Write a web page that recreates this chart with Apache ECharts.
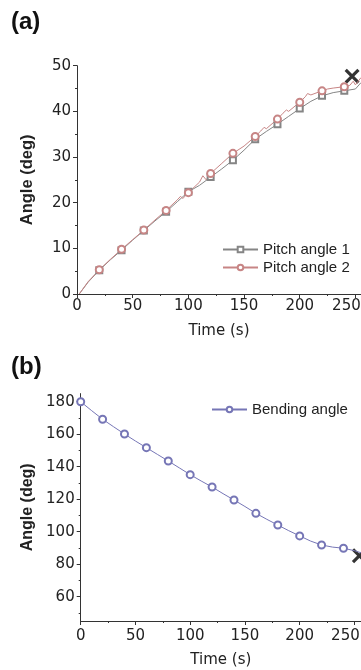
<!DOCTYPE html>
<html>
<head>
<meta charset="utf-8">
<script src="https://cdn.jsdelivr.net/npm/echarts@6/dist/echarts.min.js"></script>
<style>
  html, body { margin: 0; padding: 0; background: #fff; }
  #echarts { width: 361px; height: 670px; }
</style>
</head>
<body>
<div id="echarts"></div>
<script>
// (a) pitch angles
var pitch1Time = [2, 10, 20, 30, 40, 50, 60, 70, 80, 90, 100, 110, 120, 130, 140, 150, 160, 170, 180, 190, 200, 210, 220, 230, 240, 250, 255];
var pitch1 = [0, 2.6, 5.2, 7.5, 9.6, 11.8, 13.9, 16.0, 18.0, 20.2, 22.4, 23.8, 25.6, 27.4, 29.3, 31.5, 33.9, 35.6, 37.2, 38.9, 40.6, 42.2, 43.4, 44.1, 44.5, 44.9, 46.3];
var pitch2Time = [2, 10, 20, 30, 40, 50, 60, 70, 80, 90, 93, 95, 100, 110, 113, 116, 120, 130, 140, 150, 160, 165, 168, 170, 180, 185, 188, 190, 200, 205, 207, 210, 220, 225, 230, 240, 245, 248, 250, 255];
var pitch2 = [0, 2.7, 5.3, 7.6, 9.8, 11.9, 14.0, 16.2, 18.3, 20.6, 21.4, 20.9, 22.2, 24.5, 25.9, 25.0, 26.4, 28.6, 30.8, 32.4, 34.5, 35.7, 36.5, 36.2, 38.3, 39.6, 40.3, 40.0, 42.0, 43.2, 43.9, 43.6, 44.5, 44.9, 45.1, 45.4, 45.7, 46.6, 45.8, 47.4];
var pitchMarks = [20, 40, 60, 80, 100, 120, 140, 160, 180, 200, 220, 240];
var pitchCross = [[247, 47.7]];

// (b) bending angle
var bendTime = [0, 10, 20, 30, 40, 50, 60, 70, 80, 90, 100, 110, 120, 130, 140, 150, 160, 170, 180, 190, 200, 210, 220, 230, 240, 250, 256];
var bend = [180, 174.5, 169.2, 164.6, 160.1, 155.8, 151.7, 147.6, 143.5, 139.3, 135.1, 131.2, 127.5, 123.4, 119.5, 115.5, 111.3, 107.6, 104.1, 100.6, 97.4, 94.2, 91.8, 90.5, 89.8, 88.3, 87.0];
var bendMarks = [0, 20, 40, 60, 80, 100, 120, 140, 160, 180, 200, 220, 240];
var bendCross = [[254.5, 85.2]];

var bendLabels = [60, 80, 100, 120, 140, 160, 180];
var bendMinor = [50, 70, 90, 110, 130, 150, 170];

var txt = '#222';
var font = 'Liberation Sans, Arial, sans-serif';
var numFont = 'DejaVu Sans, sans-serif';
var crossPath = 'path://M0,3 L3,0 L10,7 L17,0 L20,3 L13,10 L20,17 L17,20 L10,13 L3,20 L0,17 L7,10 Z';

function withMarks(times, vals, marks) {
  var out = [];
  for (var i = 0; i < times.length; i++) {
    var item = { value: [times[i], vals[i]] };
    if (marks.indexOf(times[i]) < 0) item.symbol = 'none';
    out.push(item);
  }
  return out;
}

function xAxisFor(idx, max, margin, gap) {
  return {
    gridIndex: idx, type: 'value', min: 0, max: max, interval: 50,
    name: 'Time (s)', nameLocation: 'middle', nameGap: gap,
    nameTextStyle: { color: txt, fontSize: 15, fontFamily: numFont },
    axisLine: { lineStyle: { color: '#333', width: 1 } },
    axisTick: { length: 4, lineStyle: { color: '#333' } },
    minorTick: { show: true, splitNumber: 2, length: 2, lineStyle: { color: '#333' } },
    axisLabel: {
      color: txt, fontSize: 15, fontFamily: numFont, margin: margin,
      // last label sits at the cropped right edge, nudge it left
      formatter: function (v) { return v === 250 ? '{r|250}' : String(v); },
      rich: { r: { color: txt, fontSize: 15, fontFamily: numFont, padding: [0, 18, 0, 0] } }
    },
    splitLine: { show: false }
  };
}

var chart = echarts.init(document.getElementById('echarts'));
chart.setOption({
  animation: false,
  title: [
    { text: '(a)', left: 6, top: 5, textStyle: { fontSize: 24, fontWeight: 'bold', color: '#111', fontFamily: font } },
    { text: '(b)', left: 6, top: 350, textStyle: { fontSize: 24, fontWeight: 'bold', color: '#111', fontFamily: font } }
  ],
  grid: [
    { left: 77, top: 65.7, right: 0, height: 228.3, outerBoundsMode: 'none' },
    { left: 80.7, top: 393.6, right: 0, height: 227.4, outerBoundsMode: 'none' }
  ],
  legend: [
    {
      data: ['Pitch angle 1', 'Pitch angle 2'], orient: 'vertical', left: 222, top: 242,
      padding: 0, itemWidth: 35, itemHeight: 7, itemGap: 3,
      textStyle: { color: txt, fontSize: 15, fontFamily: font }
    },
    {
      data: ['Bending angle'], orient: 'vertical', left: 211, top: 402,
      padding: 0, itemWidth: 35, itemHeight: 7,
      textStyle: { color: txt, fontSize: 15, fontFamily: font }
    }
  ],
  xAxis: [xAxisFor(0, 255, 5, 30), xAxisFor(1, 256, 8, 32)],
  yAxis: [
    {
      gridIndex: 0, type: 'value', min: 0, max: 50, interval: 10,
      name: 'Angle (deg)', nameLocation: 'middle', nameGap: 41, nameRotate: 90,
      nameTextStyle: { color: txt, fontSize: 16.5, fontWeight: 'bold', fontFamily: font },
      axisLine: { show: true, lineStyle: { color: '#333', width: 1 } },
      axisTick: { show: true, length: 4, lineStyle: { color: '#333' } },
      minorTick: { show: true, splitNumber: 2, length: 2, lineStyle: { color: '#333' } },
      axisLabel: { color: txt, fontSize: 15, fontFamily: numFont, margin: 6 },
      splitLine: { show: false }
    },
    {
      gridIndex: 1, type: 'value', min: 45, max: 185,
      name: 'Angle (deg)', nameLocation: 'middle', nameGap: 44, nameRotate: 90,
      nameTextStyle: { color: txt, fontSize: 16, fontWeight: 'bold', fontFamily: font },
      axisLine: { show: true, lineStyle: { color: '#333', width: 1 } },
      axisTick: { show: true, length: 4, customValues: bendLabels, lineStyle: { color: '#333' } },
      axisLabel: { color: txt, fontSize: 15, fontFamily: numFont, margin: 6, customValues: bendLabels },
      splitLine: { show: false }
    },
    {
      gridIndex: 1, type: 'value', min: 45, max: 185, position: 'left',
      axisLine: { show: false },
      axisTick: { show: true, length: 2, customValues: bendMinor, lineStyle: { color: '#333' } },
      axisLabel: { show: false },
      splitLine: { show: false }
    }
  ],
  series: [
    {
      name: 'Pitch angle 1', type: 'line', xAxisIndex: 0, yAxisIndex: 0,
      data: withMarks(pitch1Time, pitch1, pitchMarks),
      symbol: 'emptyRect', symbolSize: 6, showAllSymbol: true,
      lineStyle: { color: '#858585', width: 1 },
      itemStyle: { color: '#858585', borderWidth: 1 }
    },
    {
      name: 'Pitch angle 2', type: 'line', xAxisIndex: 0, yAxisIndex: 0,
      data: withMarks(pitch2Time, pitch2, pitchMarks),
      symbol: 'emptyCircle', symbolSize: 7, showAllSymbol: true,
      lineStyle: { color: '#c78585', width: 1 },
      itemStyle: { color: '#c78585', borderWidth: 1 }
    },
    {
      name: 'cross a', type: 'scatter', xAxisIndex: 0, yAxisIndex: 0,
      data: pitchCross, symbol: crossPath, symbolSize: 15, clip: false,
      itemStyle: { color: '#000' }
    },
    {
      name: 'Bending angle', type: 'line', xAxisIndex: 1, yAxisIndex: 1,
      data: withMarks(bendTime, bend, bendMarks),
      symbol: 'emptyCircle', symbolSize: 7, showAllSymbol: true,
      lineStyle: { color: '#7676b6', width: 1 },
      itemStyle: { color: '#7676b6', borderWidth: 1 }
    },
    {
      name: 'cross b', type: 'scatter', xAxisIndex: 1, yAxisIndex: 1,
      data: bendCross, symbol: crossPath, symbolSize: 15, clip: false,
      itemStyle: { color: '#000' }
    }
  ]
});
</script>
</body>
</html>
